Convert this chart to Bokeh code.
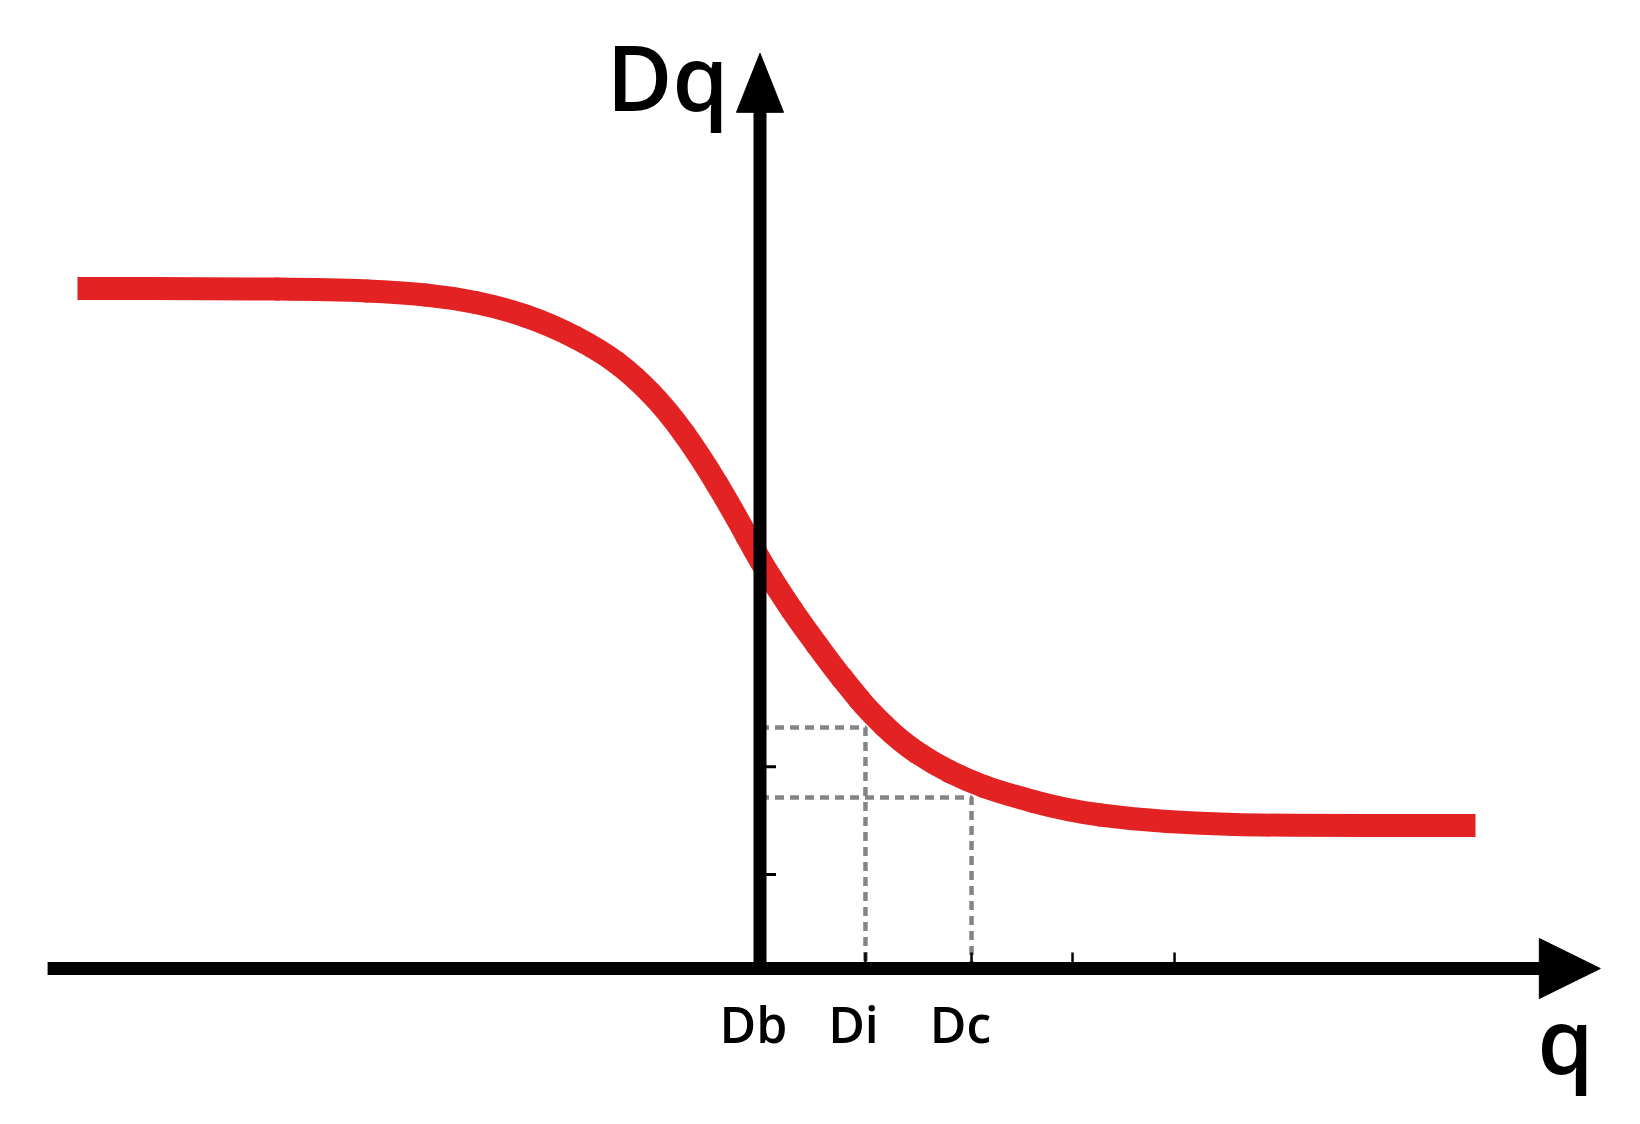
from bokeh.plotting import figure
from bokeh.models import Range1d
from bokeh.core.properties import value
from bokeh.embed import file_html
from bokeh.resources import INLINE

# ---- data (q on x, Dq on y; Db at origin) ----
curve_q = [-6.563, -5.188, -4.101, -3.457, -2.976, -2.495, -2.014, -1.534, -1.216,
           -0.889, -0.572, -0.255, 0.005, 0.226, 0.389, 0.707, 0.870, 1.034,
           1.351, 1.668, 1.995, 2.313, 2.957, 3.591, 4.236, 4.880, 6.880]
curve_dq = [6.538, 6.538, 6.529, 6.500, 6.452, 6.356, 6.192, 5.942, 5.702,
            5.365, 4.923, 4.394, 3.913, 3.567, 3.327, 2.894, 2.692, 2.490,
            2.183, 1.971, 1.808, 1.692, 1.519, 1.433, 1.394, 1.375, 1.375]

tick_labels = ["Db", "Di", "Dc"]
tick_label_q = [-0.063, 0.899, 1.928]
x_ticks = [1.014, 2.034, 3.005, 3.986]
y_ticks = [0.904, 1.94]
di_q, dc_q = 1.014, 2.034
dq_di, dq_dc = 2.317, 1.644

x_axis_start, x_axis_tip = -6.85, 8.08
y_axis_tip = 8.80

# ---- layout ----
W, H = 1640, 1124
U = 104.0              # px per unit
OX, OY = 759.5, 968.0  # canvas position of origin
x0 = -OX / U
x1 = (W - OX) / U
y1 = OY / U
y0 = (OY - H) / U

p = figure(width=W, height=H, x_range=Range1d(x0, x1), y_range=Range1d(y0, y1),
           x_axis_type=None, y_axis_type=None, toolbar_location=None,
           output_backend="svg", min_border=0, outline_line_color=None,
           background_fill_color="white", border_fill_color="white")
p.grid.visible = False

# dashed guide lines
dash_col = "#858585"
p.line([0, di_q, di_q], [dq_di, dq_di, 0], line_color=dash_col, line_width=4.5, line_dash="9 6")
p.line([0, dc_q, dc_q], [dq_dc, dq_dc, 0], line_color=dash_col, line_width=4.5, line_dash="9 6")

# ticks
tick_top = 16.0 / U
p.segment(x0=x_ticks, y0=[0]*len(x_ticks), x1=x_ticks, y1=[tick_top]*len(x_ticks),
          line_color="black", line_width=2.5)
p.segment(x0=[0]*len(y_ticks), y0=y_ticks, x1=[tick_top]*len(y_ticks), y1=y_ticks,
          line_color="black", line_width=3)

# red curve: smooth rendering through the read points (points used as quadratic controls)
red = "#e32323"
LW = 23
n = len(curve_q)
mx = [(curve_q[i] + curve_q[i + 1]) / 2 for i in range(n - 1)]
my = [(curve_dq[i] + curve_dq[i + 1]) / 2 for i in range(n - 1)]
p.quadratic(x0=mx[:-1], y0=my[:-1], x1=mx[1:], y1=my[1:],
            cx=curve_q[1:-1], cy=curve_dq[1:-1],
            line_color=red, line_width=LW, line_cap="round")
p.line([curve_q[0], mx[0]], [curve_dq[0], my[0]], line_color=red, line_width=LW, line_cap="butt")
p.line([mx[-1], curve_q[-1]], [my[-1], curve_dq[-1]], line_color=red, line_width=LW, line_cap="butt")

# axes
head_len_x, head_hw_x = 61 / U, 30 / U
head_len_y, head_hw_y = 59 / U, 23.5 / U
p.line([x_axis_start, x_axis_tip - head_len_x + 0.02], [0, 0], line_color="black", line_width=13)
p.line([0, 0], [-6.5 / U, y_axis_tip - head_len_y + 0.02], line_color="black", line_width=13)
p.patch([x_axis_tip - head_len_x, x_axis_tip, x_axis_tip - head_len_x],
        [-head_hw_x, 0, head_hw_x], fill_color="black", line_color="black", line_width=1)
p.patch([-head_hw_y, 0, head_hw_y],
        [y_axis_tip - head_len_y, y_axis_tip, y_axis_tip - head_len_y],
        fill_color="black", line_color="black", line_width=1)

# labels (anchor shifted so the rendered baseline lands on the target line)
font = value("'Open Sans SemiBold', 'Open Sans'")
def base_y(screen_baseline, fs):
    return (OY - screen_baseline + 0.38 * fs) / U

p.text(x=tick_label_q, y=[base_y(1042, 50)]*3, text=tick_labels, text_font=font,
       text_font_size="50px", text_align="center", text_baseline="alphabetic",
       text_color="black")
p.text(x=[(667 - OX) / U], y=[base_y(110, 90)], text=["Dq"], text_font=font,
       text_font_size="90px", text_align="center",
       text_baseline="alphabetic", text_color="black")
p.text(x=[(1565 - OX) / U], y=[base_y(1073, 90)], text=["q"], text_font=font,
       text_font_size="90px", text_align="center",
       text_baseline="alphabetic", text_color="black")

open("out.html", "w").write(file_html(p, INLINE))
